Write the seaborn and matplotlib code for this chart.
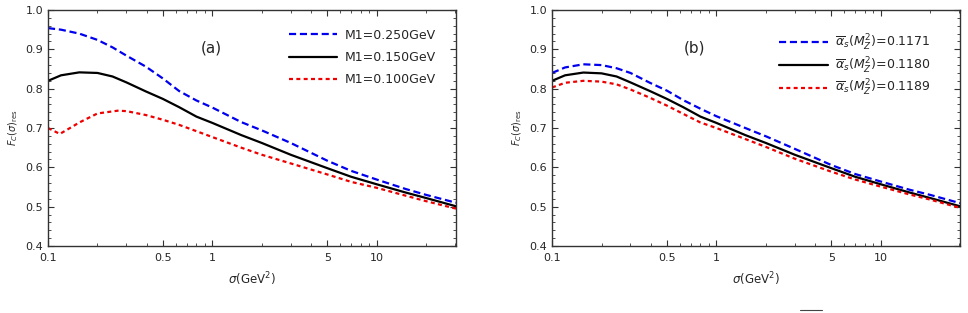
import numpy as np
import pandas as pd
import matplotlib
matplotlib.use("Agg")
import matplotlib.pyplot as plt
import seaborn as sns
from matplotlib.ticker import FixedLocator, NullFormatter, MultipleLocator
from matplotlib.lines import Line2D

sns.set_theme(style="ticks")
plt.rcParams['font.family'] = ['DejaVu Sans']
plt.rcParams['mathtext.fontset'] = 'dejavusans'

# ---- data ----
sigma = [0.1, 0.12, 0.155, 0.2, 0.247, 0.3, 0.394, 0.5, 0.628, 0.8, 1.0, 1.5, 2.0, 3.0, 5.0, 7.0, 10.0, 15.0, 20.0, 30.4]

blue_a  = [0.954, 0.950, 0.940, 0.924, 0.905, 0.884, 0.856, 0.826, 0.794, 0.770, 0.752, 0.715, 0.694, 0.662, 0.617, 0.591, 0.569, 0.545, 0.530, 0.510]
black_a = [0.820, 0.834, 0.8415, 0.840, 0.831, 0.816, 0.793, 0.774, 0.753, 0.729, 0.713, 0.682, 0.662, 0.632, 0.598, 0.576, 0.557, 0.536, 0.522, 0.501]
sigma_red_a = [0.1, 0.118, 0.14, 0.155, 0.2, 0.265, 0.3, 0.394, 0.5, 0.628, 0.8, 1.0, 1.5, 2.0, 3.0, 5.0, 7.0, 10.0, 15.0, 20.0, 30.4]
red_a   = [0.700, 0.685, 0.703, 0.714, 0.737, 0.744, 0.743, 0.733, 0.721, 0.708, 0.692, 0.677, 0.650, 0.632, 0.610, 0.582, 0.563, 0.548, 0.528, 0.514, 0.495]

blue_b  = [0.840, 0.854, 0.862, 0.860, 0.852, 0.840, 0.815, 0.795, 0.771, 0.749, 0.730, 0.700, 0.679, 0.647, 0.606, 0.583, 0.564, 0.543, 0.530, 0.509]
black_b = [0.820, 0.834, 0.841, 0.839, 0.831, 0.816, 0.794, 0.774, 0.753, 0.729, 0.713, 0.682, 0.662, 0.632, 0.598, 0.576, 0.557, 0.536, 0.522, 0.501]
red_b   = [0.803, 0.815, 0.820, 0.818, 0.811, 0.798, 0.777, 0.757, 0.736, 0.714, 0.700, 0.672, 0.652, 0.622, 0.589, 0.569, 0.551, 0.531, 0.518, 0.497]

labels_a = ['M1=0.250GeV', 'M1=0.150GeV', 'M1=0.100GeV']
labels_b = [r'$\overline{\alpha}_s(M_Z^2)$=0.1171', r'$\overline{\alpha}_s(M_Z^2)$=0.1180', r'$\overline{\alpha}_s(M_Z^2)$=0.1189']
panel_tags = ['(a)', '(b)']

xmajor = [0.1, 0.5, 1, 5, 10]
xmajor_labels = ['0.1', '0.5', '1', '5', '10']

colors = ['#0000ee', 'black', '#ee0000']
styles = [(0, (3.2, 1.7)), '-', (0, (1.8, 1.5))]

fig = plt.figure(figsize=(9.68, 3.13), dpi=100)
axa = fig.add_axes([0.0496, 0.214, 0.4215, 0.754])
axb = fig.add_axes([0.5703, 0.214, 0.4215, 0.754])

def draw(ax, xs, ys, labels, tag, tagx, leg_anchor, lspacing):
    for x, y, lab, c, ls in zip(xs, ys, labels, colors, styles):
        df = pd.DataFrame({'x': x, 'y': y})
        sns.lineplot(data=df, x='x', y='y', ax=ax, color=c, linewidth=1.6, label=lab)
        ax.lines[-1].set_linestyle(ls)
    ax.set_xscale('log')
    ax.set_xlim(0.1, 30.4)
    ax.set_ylim(0.4, 1.0)
    ax.xaxis.set_major_locator(FixedLocator(xmajor))
    ax.set_xticklabels(xmajor_labels)
    minors = [v * d for d in (0.1, 1, 10) for v in range(2, 10)]
    minors = [m for m in minors if m not in xmajor and m <= 30]
    ax.xaxis.set_minor_locator(FixedLocator(minors))
    ax.xaxis.set_minor_formatter(NullFormatter())
    ax.yaxis.set_major_locator(MultipleLocator(0.1))
    ax.yaxis.set_minor_locator(MultipleLocator(0.02))
    ax.tick_params(which='both', direction='in', top=True, right=True, labelsize=8, color='#333333')
    ax.tick_params(axis='x', which='both', pad=5)
    ax.tick_params(which='major', length=4, width=0.8)
    ax.tick_params(which='minor', length=2.2, width=0.6)
    for s in ax.spines.values():
        s.set_linewidth(1.0)
        s.set_color('#333333')
    ax.set_xlabel(r'$\sigma$(GeV$^2$)', fontsize=8.5, labelpad=5)
    ax.set_ylabel(r'$F_C(\sigma)_{\rm res}$', fontsize=7, labelpad=4)
    ax.text(tagx, 0.84, tag, transform=ax.transAxes, fontsize=11, ha='center', va='center')
    ax.legend(loc='upper left', bbox_to_anchor=leg_anchor, frameon=False, fontsize=9,
              handlelength=3.9, labelspacing=lspacing, borderaxespad=0, borderpad=0,
              handletextpad=0.6)

draw(axa, [sigma, sigma, sigma_red_a], [blue_a, black_a, red_a], labels_a, panel_tags[0], 0.40,
     (0.59, 0.921), 0.75)
draw(axb, [sigma, sigma, sigma], [blue_b, black_b, red_b], labels_b, panel_tags[1], 0.35,
     (0.556, 0.903), 0.2)

fig.add_artist(Line2D([800 / 968, 822 / 968], [3 / 313, 3 / 313], transform=fig.transFigure,
                      color='#444444', linewidth=0.8))

fig.savefig('out.png', dpi=100)
